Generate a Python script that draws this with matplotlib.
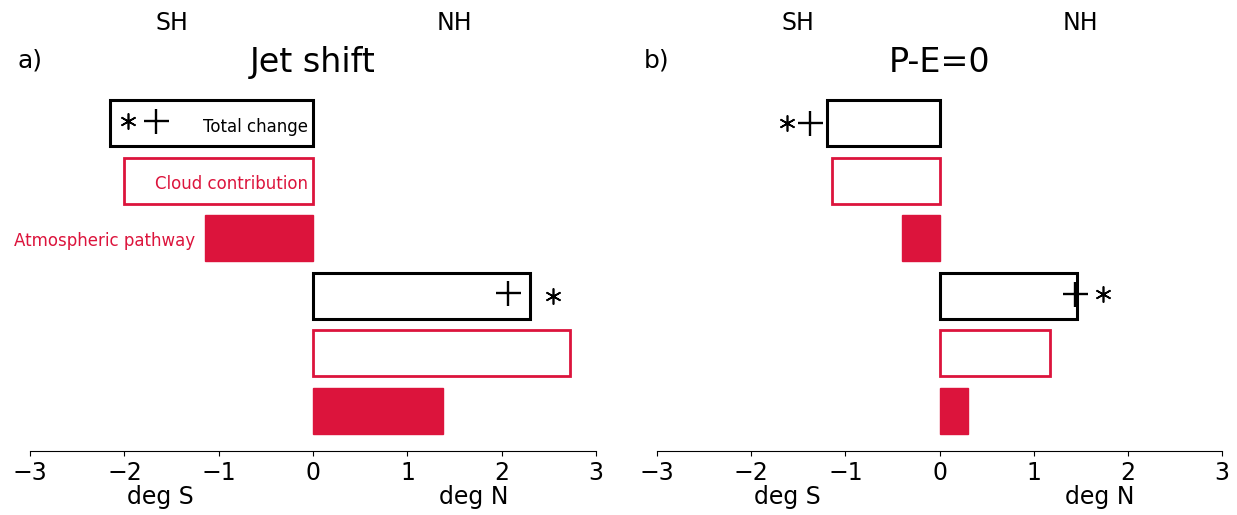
import matplotlib

matplotlib.use("Agg")
import matplotlib.pyplot as plt

RED = "#dc143c"

# bar rows, top to bottom: SH total, SH cloud, SH atmos, NH total, NH cloud, NH atmos
rows = [5, 4, 3, 2, 1, 0]

jet_total = [-2.15, 2.30]
jet_cloud = [-2.00, 2.72]
jet_atmos = [-1.15, 1.38]

pe_total = [-1.19, 1.46]
pe_cloud = [-1.14, 1.17]
pe_atmos = [-0.40, 0.30]

# significance symbols (x, row)
jet_star = [(-1.96, 5.03), (2.54, 2.0)]
jet_plus = [(-1.67, 5.03), (2.07, 2.05)]
pe_star = [(-1.62, 5.0), (1.74, 2.03)]
pe_plus = [(-1.37, 5.0), (1.44, 2.03)]

xticks = [-3, -2, -1, 0, 1, 2, 3]


def draw_panel(ax, total, cloud, atmos, stars, pluses, title, letter):
    h = 0.8
    for i, hemi in enumerate([0, 1]):
        r0 = rows[3 * i]
        ax.barh(r0, total[hemi], height=h, color="white", edgecolor="black", linewidth=2.2)
        ax.barh(r0 - 1, cloud[hemi], height=h, color="white", edgecolor=RED, linewidth=2.0)
        ax.barh(r0 - 2, atmos[hemi], height=h, color=RED, edgecolor=RED, linewidth=1.0)
    for x, y in stars:
        ax.plot(x, y, marker=(6, 2, 0), markersize=11.5, markeredgewidth=1.2, color="black")
    for x, y in pluses:
        ax.plot(x, y, marker="+", markersize=18, markeredgewidth=1.7, color="black")

    ax.set_xlim(-3, 3)
    ax.set_ylim(-0.7, 5.7)
    ax.set_xticks(xticks)
    ax.tick_params(axis="x", labelsize=17)
    ax.set_yticks([])
    for side in ["left", "right", "top"]:
        ax.spines[side].set_visible(False)

    ax.set_title(title, fontsize=24, pad=8)
    tr = ax.get_xaxis_transform()
    ax.text(-1.5, 1.163, "SH", transform=tr, ha="center", va="center", fontsize=17)
    ax.text(1.5, 1.163, "NH", transform=tr, ha="center", va="center", fontsize=17)
    ax.text(-1.62, -0.125, "deg S", transform=tr, ha="center", va="center", fontsize=17)
    ax.text(1.70, -0.125, "deg N", transform=tr, ha="center", va="center", fontsize=17)
    ax.text(0.0, 1.062, letter, transform=ax.transAxes, ha="center", va="center", fontsize=18)


fig = plt.figure(figsize=(12.37, 5.15), dpi=100)
ax_a = fig.add_axes([0.0243, 0.1243, 0.4576, 0.7146])
ax_b = fig.add_axes([0.5311, 0.1243, 0.4568, 0.7146])

draw_panel(ax_a, jet_total, jet_cloud, jet_atmos, jet_star, jet_plus, "Jet shift", "a)")
draw_panel(ax_b, pe_total, pe_cloud, pe_atmos, pe_star, pe_plus, "P-E=0", "b)")

ax_a.text(-0.05, 4.93, "Total change", ha="right", va="center", fontsize=12, color="black")
ax_a.text(-0.05, 3.95, "Cloud contribution", ha="right", va="center", fontsize=12, color=RED)
ax_a.text(-1.25, 2.95, "Atmospheric pathway", ha="right", va="center", fontsize=12, color=RED)

fig.savefig("out.png", dpi=100)
plt.close(fig)
